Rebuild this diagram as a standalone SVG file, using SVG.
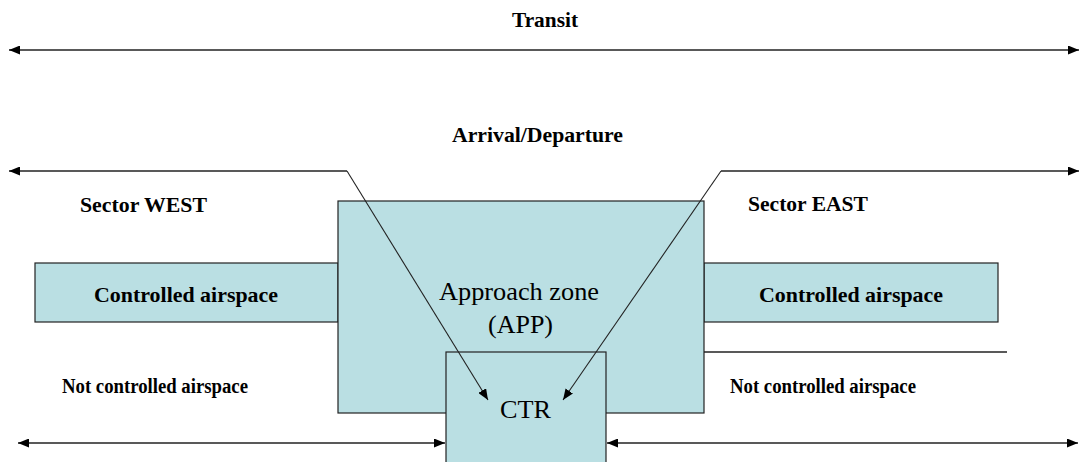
<svg xmlns="http://www.w3.org/2000/svg" width="1080" height="462" viewBox="0 0 1080 462">
<style>
.box{fill:#badfe3;stroke:#222;stroke-width:1.2}
.ln{fill:none;stroke:#222;stroke-width:1.6}
.dg{fill:none;stroke:#222;stroke-width:1.1}
.b{font-family:"Liberation Serif",serif;font-weight:bold;fill:#000;text-anchor:start}
.r{font-family:"Liberation Serif",serif;fill:#000;text-anchor:start}
</style>
<defs>
<marker id="ah" viewBox="0 0 11 9" refX="11" refY="4.5" markerWidth="11" markerHeight="9" markerUnits="userSpaceOnUse" orient="auto-start-reverse">
<path d="M0,0 L11,4.5 L0,9 Z" fill="#000"/>
</marker>
</defs>
<rect width="1080" height="462" fill="#fff"/>
<g id="left-controlled"><rect class="box" x="35" y="263" width="303" height="59"/>
<text class="b" x="94" y="302" font-size="22" textLength="184" lengthAdjust="spacingAndGlyphs">Controlled airspace</text></g>
<g id="right-controlled"><rect class="box" x="704" y="263" width="294" height="59"/>
<text class="b" x="759" y="302" font-size="22" textLength="184" lengthAdjust="spacingAndGlyphs">Controlled airspace</text></g>
<g id="approach"><rect class="box" x="338" y="201" width="366" height="212"/>
<text class="r" x="439" y="300" font-size="25" textLength="160" lengthAdjust="spacingAndGlyphs">Approach zone</text>
<text class="r" x="488" y="333" font-size="25" textLength="65" lengthAdjust="spacingAndGlyphs">(APP)</text></g>
<g id="ctr"><rect class="box" x="446" y="352" width="160" height="120"/>
<text class="r" x="500" y="418" font-size="25" textLength="51" lengthAdjust="spacingAndGlyphs">CTR</text></g>
<g id="labels">
<text class="b" x="512" y="27" font-size="22" textLength="66" lengthAdjust="spacingAndGlyphs">Transit</text>
<text class="b" x="452" y="142" font-size="22" textLength="171" lengthAdjust="spacingAndGlyphs">Arrival/Departure</text>
<text class="b" x="80" y="212" font-size="22" textLength="127" lengthAdjust="spacingAndGlyphs">Sector WEST</text>
<text class="b" x="748" y="211" font-size="22" textLength="120" lengthAdjust="spacingAndGlyphs">Sector EAST</text>
<text class="b" x="62" y="393" font-size="20" textLength="186" lengthAdjust="spacingAndGlyphs">Not controlled airspace</text>
<text class="b" x="730" y="393" font-size="20" textLength="186" lengthAdjust="spacingAndGlyphs">Not controlled airspace</text>
</g>
<g id="connectors">
<line class="ln" x1="9" y1="50" x2="1079" y2="50" marker-start="url(#ah)" marker-end="url(#ah)"/>
<path class="ln" d="M9,171 L347,171" marker-start="url(#ah)"/>
<path class="dg" d="M347,171 L488,400" marker-end="url(#ah)"/>
<path class="ln" d="M1079,171 L721,171" marker-start="url(#ah)"/>
<path class="dg" d="M721,171 L563,400" marker-end="url(#ah)"/>
<line class="ln" x1="18" y1="443" x2="445" y2="443" marker-start="url(#ah)" marker-end="url(#ah)"/>
<line class="ln" x1="607" y1="443" x2="1078" y2="443" marker-start="url(#ah)" marker-end="url(#ah)"/>
<line class="ln" x1="704" y1="352" x2="1007" y2="352"/>
</g>
</svg>
